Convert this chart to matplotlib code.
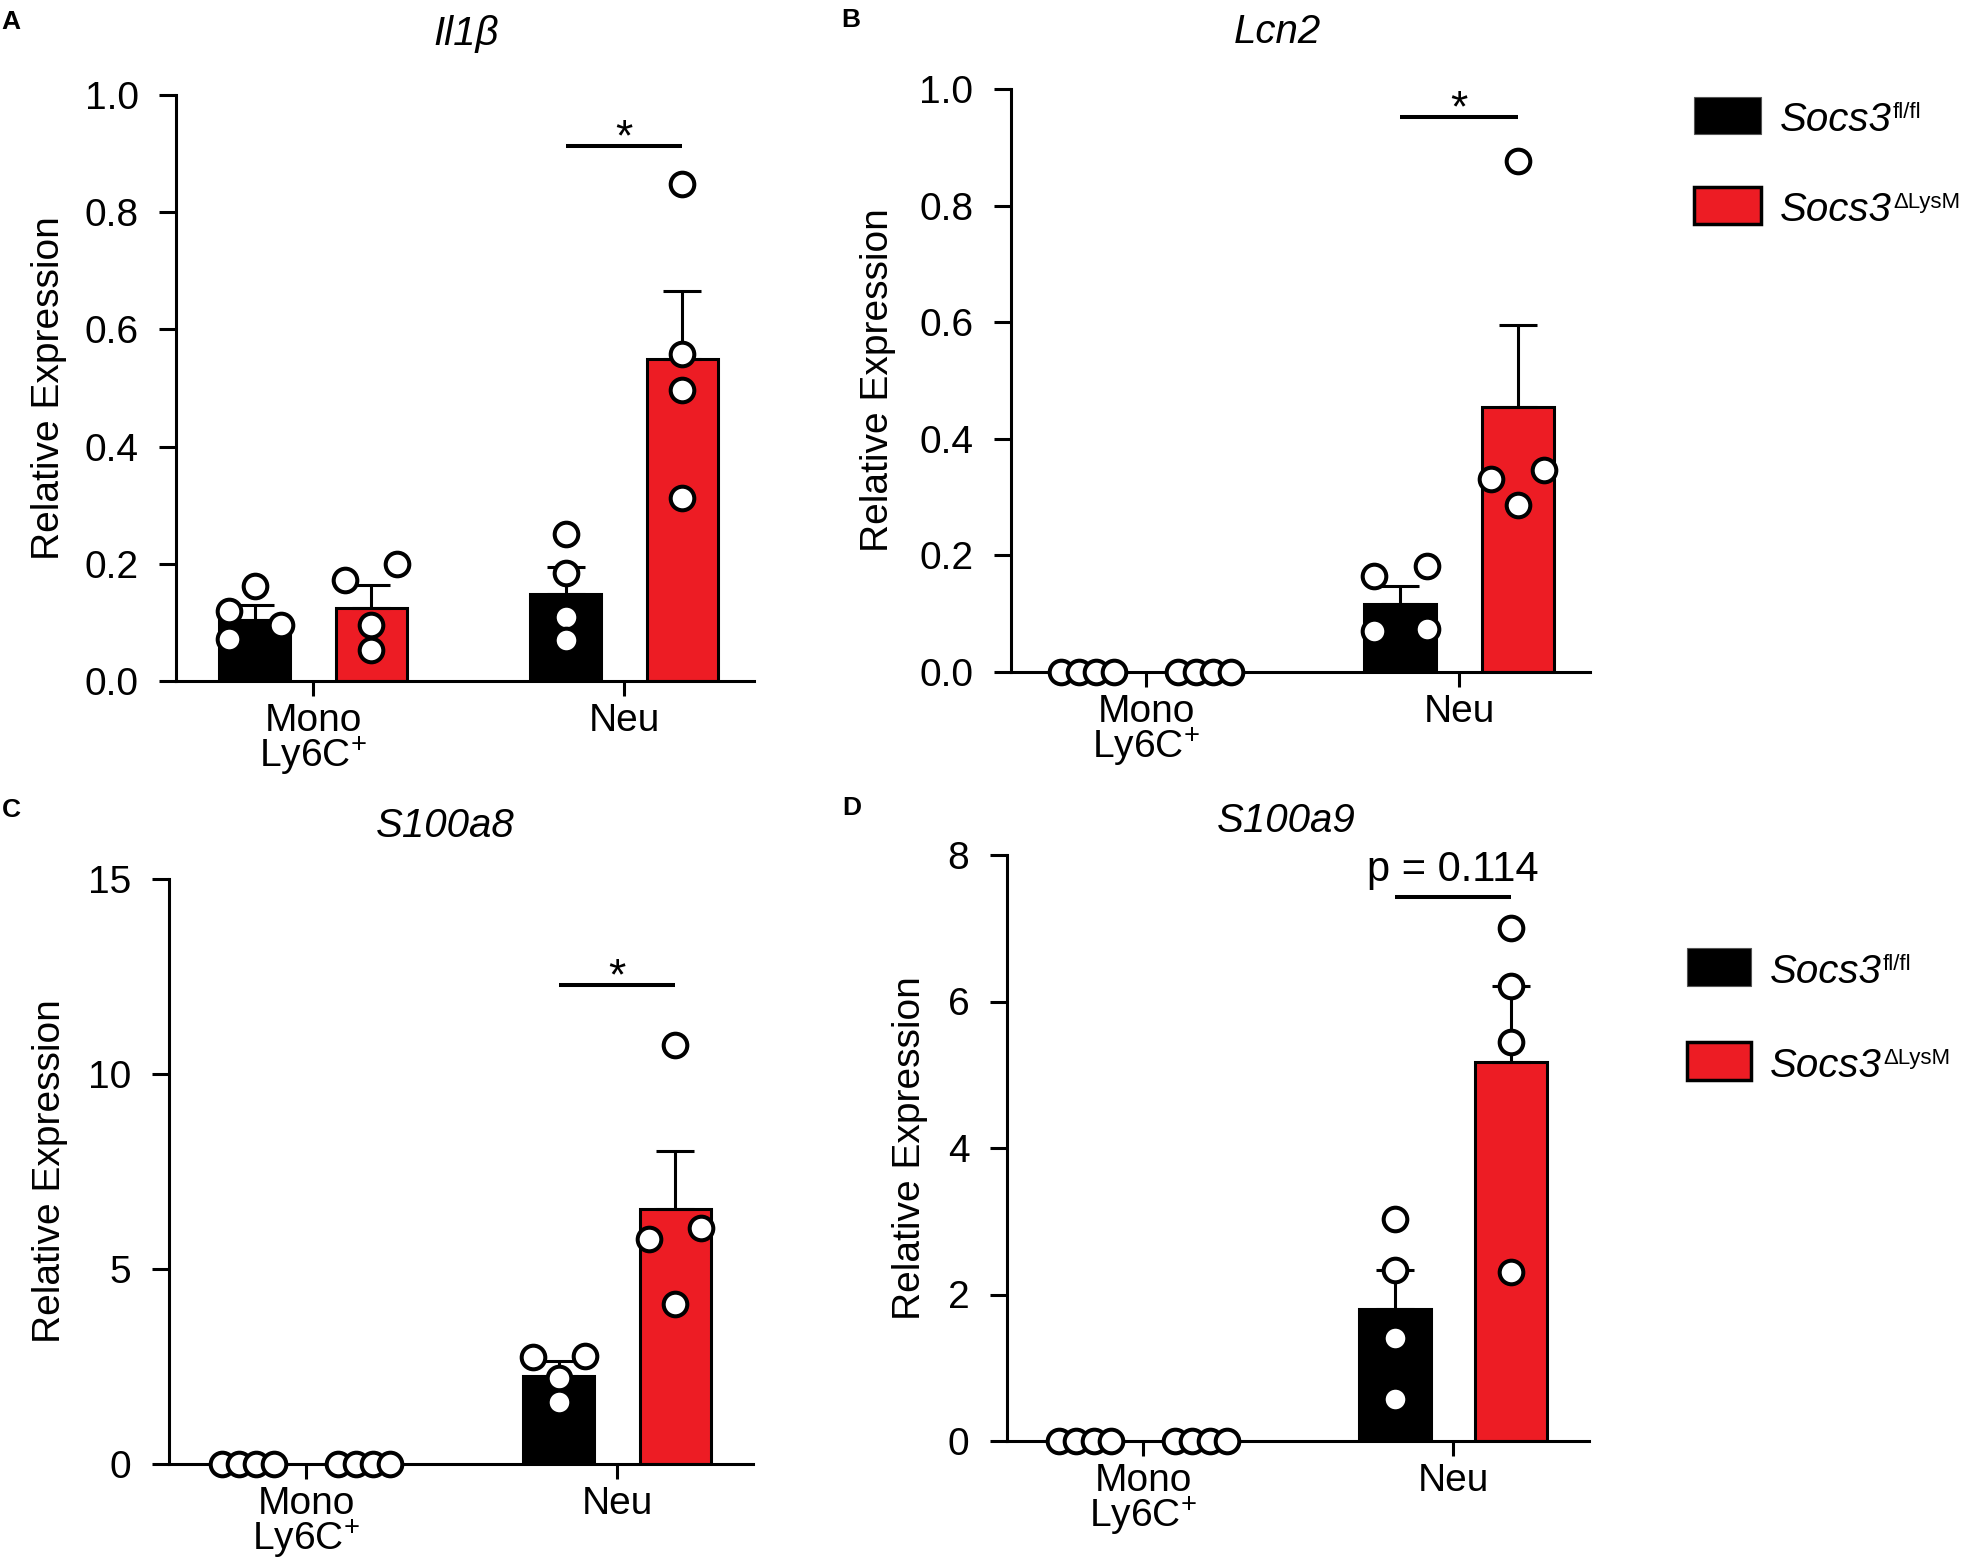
import numpy as np
import matplotlib
matplotlib.use("Agg")
import matplotlib.pyplot as plt
from matplotlib.patches import Rectangle

plt.rcParams['font.family'] = ['Liberation Sans', 'DejaVu Sans']
plt.rcParams['mathtext.fontset'] = 'custom'
plt.rcParams['mathtext.rm'] = 'Liberation Sans'
plt.rcParams['mathtext.it'] = 'Liberation Sans:italic'
plt.rcParams['mathtext.bf'] = 'Liberation Sans:bold'

RED = '#ED1C24'

## data
genes = ['Il1β', 'Lcn2', 'S100a8', 'S100a9']
panel_letters = ['A', 'B', 'C', 'D']
cell_types = ['Mono\nLy6C$^{\\mathrm{+}}$', 'Neu']
genotype_base = ['Socs3', 'Socs3']
genotype_sup = ['fl/fl', 'ΔLysM']

il1b_fl_mean = [0.104, 0.148]
il1b_fl_sem = [0.026, 0.046]
il1b_fl_pts = [[0.162, 0.119, 0.072, 0.096], [0.251, 0.185, 0.110, 0.070]]
il1b_ko_mean = [0.124, 0.549]
il1b_ko_sem = [0.040, 0.117]
il1b_ko_pts = [[0.173, 0.199, 0.096, 0.053], [0.848, 0.558, 0.497, 0.313]]

lcn2_fl_mean = [0.0, 0.117]
lcn2_fl_sem = [0.0, 0.031]
lcn2_fl_pts = [[0, 0, 0, 0], [0.165, 0.181, 0.070, 0.074]]
lcn2_ko_mean = [0.0, 0.454]
lcn2_ko_sem = [0.0, 0.142]
lcn2_ko_pts = [[0, 0, 0, 0], [0.876, 0.346, 0.331, 0.286]]

s100a8_fl_mean = [0.0, 2.25]
s100a8_fl_sem = [0.0, 0.39]
s100a8_fl_pts = [[0, 0, 0, 0], [2.78, 2.74, 2.20, 1.58]]
s100a8_ko_mean = [0.0, 6.53]
s100a8_ko_sem = [0.0, 1.49]
s100a8_ko_pts = [[0, 0, 0, 0], [10.74, 6.04, 5.76, 4.10]]

s100a9_fl_mean = [0.0, 1.80]
s100a9_fl_sem = [0.0, 0.54]
s100a9_fl_pts = [[0, 0, 0, 0], [3.03, 2.34, 1.40, 0.57]]
s100a9_ko_mean = [0.0, 5.18]
s100a9_ko_sem = [0.0, 1.03]
s100a9_ko_pts = [[0, 0, 0, 0], [7.00, 6.21, 5.45, 2.31]]

y_max = [1.0, 1.0, 15, 8]
y_step = [0.2, 0.2, 5, 2]
sig_text = ['*', '*', '*', 'p = 0.114']
sig_y = [0.913, 0.952, 12.29, 7.43]

panels = [
    (il1b_fl_mean, il1b_fl_sem, il1b_fl_pts, il1b_ko_mean, il1b_ko_sem, il1b_ko_pts),
    (lcn2_fl_mean, lcn2_fl_sem, lcn2_fl_pts, lcn2_ko_mean, lcn2_ko_sem, lcn2_ko_pts),
    (s100a8_fl_mean, s100a8_fl_sem, s100a8_fl_pts, s100a8_ko_mean, s100a8_ko_sem, s100a8_ko_pts),
    (s100a9_fl_mean, s100a9_fl_sem, s100a9_fl_pts, s100a9_ko_mean, s100a9_ko_sem, s100a9_ko_pts),
]

## layout (pixels of the 1964x1566 canvas)
W, H = 1964, 1566
axes_px = [(176, 95, 754, 681), (1011, 89, 1590, 672),
           (169, 879, 753, 1464), (1007, 855, 1589, 1441)]
group_px = [(313, 624), (1146, 1459), (306, 617), (1143, 1453)]
title_px = [(466, 34), (1277, 32), (445, 826), (1286, 821)]
letter_px = [(11, 22), (851, 20), (11, 810), (852, 808)]
ylabel_x = [-0.189, -0.198, -0.173, -0.135]
legend_px = [(1694, 97, 67, 37, 90), (1687, 948, 64, 38, 94)]

BAR_W = 0.23
OFFSET = 0.1875
SPREAD = 0.084


def fx(x):
    return x / W


def fy(y):
    return 1 - y / H


def swarm_offsets(values, tol, half):
    # graphpad-like spreading of overlapping points
    values = list(values)
    order = np.argsort(values, kind='stable')
    offs = np.zeros(len(values))
    clusters, cur = [], [order[0]]
    for i in order[1:]:
        if values[i] - values[cur[-1]] < tol:
            cur.append(i)
        else:
            clusters.append(cur)
            cur = [i]
    clusters.append(cur)
    for c in clusters:
        if len(c) < 2:
            continue
        vals = [values[i] for i in c]
        if max(vals) == min(vals):
            o = np.linspace(-half, half, len(c))
        else:
            o = [-half if k % 2 == 0 else half for k in range(len(c))]
        for i, v in zip(c, o):
            offs[i] = v
    return offs


def draw_group(ax, x, mean, sem, pts, color, ymax):
    ax.bar(x, mean, width=BAR_W, color=color, edgecolor='black',
           linewidth=2.2, zorder=2)
    if sem > 0:
        ax.errorbar(x, mean, yerr=[[0], [sem]], fmt='none', ecolor='black',
                    elinewidth=2.2, capsize=14, capthick=2.2, zorder=3)
    dx = swarm_offsets(pts, 0.03 * ymax, SPREAD)
    ax.plot(x + dx, pts, 'o', ms=17, mfc='white', mec='black', mew=2.9,
            zorder=5, clip_on=False)


fig = plt.figure(figsize=(W / 100, H / 100), dpi=100)

for k in range(4):
    l, t, r, b = axes_px[k]
    ax = fig.add_axes([fx(l), fy(b), fx(r - l), (b - t) / H])
    fl_mean, fl_sem, fl_pts, ko_mean, ko_sem, ko_pts = panels[k]
    ymax = y_max[k]
    for g in range(2):
        draw_group(ax, g - OFFSET, fl_mean[g], fl_sem[g], fl_pts[g], 'black', ymax)
        draw_group(ax, g + OFFSET, ko_mean[g], ko_sem[g], ko_pts[g], RED, ymax)

    mono, neu = group_px[k]
    ax.set_xlim((l - mono) / (neu - mono), (r - mono) / (neu - mono))
    ax.set_ylim(0, ymax)
    ticks = np.arange(0, ymax + y_step[k] / 2, y_step[k])
    ax.set_yticks(ticks)
    if y_step[k] < 1:
        ax.set_yticklabels(['%.1f' % v for v in ticks])
    else:
        ax.set_yticklabels(['%d' % v for v in ticks])
    ax.set_xticks([0, 1])
    ax.set_xticklabels(cell_types, fontsize=28, linespacing=0.85)

    for s in ['top', 'right']:
        ax.spines[s].set_visible(False)
    for s in ['left', 'bottom']:
        ax.spines[s].set_linewidth(2.2)
        ax.spines[s].set_capstyle('projecting')
    ax.tick_params(axis='y', length=12, width=2.2, pad=15, labelsize=28)
    ax.tick_params(axis='x', length=11, width=2.2, pad=5)

    ax.set_ylabel('Relative Expression', fontsize=28)
    ax.yaxis.set_label_coords(ylabel_x[k], 0.5)

    # significance bar
    ax.plot([1 - OFFSET, 1 + OFFSET], [sig_y[k], sig_y[k]], color='black',
            lw=2.9, solid_capstyle='butt')
    if sig_text[k] == '*':
        ax.annotate('*', (1, sig_y[k]), xytext=(0, -3), textcoords='offset points',
                    ha='center', va='baseline', fontsize=32)
    else:
        ax.annotate(sig_text[k], (1, sig_y[k]), xytext=(0, 11.5),
                    textcoords='offset points', ha='center', va='baseline', fontsize=30)

    fig.text(fx(title_px[k][0]), fy(title_px[k][1]), genes[k], style='italic',
             fontsize=29, ha='center', va='center')
    fig.text(fx(letter_px[k][0]), fy(letter_px[k][1]), panel_letters[k],
             fontweight='bold', fontsize=19, ha='center', va='center')

# legends
renderer = fig.canvas.get_renderer()
for (lx, ly, lw, lh, step) in legend_px:
    for i, col in enumerate(['black', RED]):
        y0 = ly + i * step
        fig.add_artist(Rectangle((fx(lx), fy(y0 + lh)), lw / W, lh / H,
                                 transform=fig.transFigure, facecolor=col,
                                 edgecolor='black' if i else '#555555',
                                 linewidth=2.5 if i else 0.8))
        base_y = y0 + lh - 3
        base = fig.text(fx(lx + lw + 19), fy(base_y), genotype_base[i],
                        style='italic', fontsize=29, ha='left', va='baseline')
        bb = base.get_window_extent(renderer)
        fig.text((bb.x1 + 1) / W, fy(base_y - 13), genotype_sup[i], fontsize=16,
                 ha='left', va='baseline')

fig.savefig('out.png', dpi=100)
